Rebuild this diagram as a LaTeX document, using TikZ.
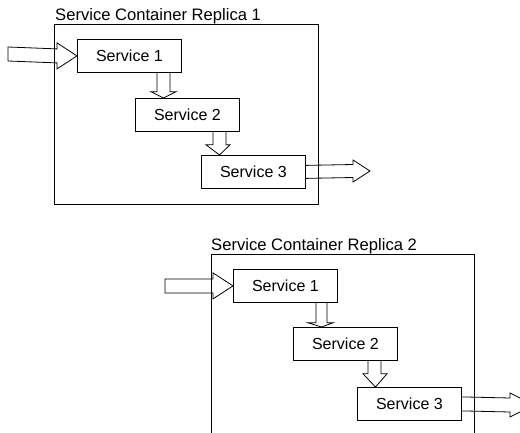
\documentclass[tikz,border=0pt]{standalone}
\usepackage{fontspec}
\setmainfont{Liberation Sans}
\usetikzlibrary{calc}
\tikzset{
  svc/.style={draw=black, line width=0.8pt, fill=white, anchor=north west, minimum width=104pt, minimum height=33pt, inner sep=0pt, font=\fontsize{16}{18}\selectfont},
  cont/.style={draw=black, line width=0.8pt, anchor=north west, inner sep=0pt},
  ttl/.style={anchor=base west, inner sep=0pt, font=\fontsize{16.6}{18}\selectfont},
  fat/.style={draw=black, line width=0.8pt, line join=miter}
}
\begin{document}
\begin{tikzpicture}[x=1pt,y=-1pt]
\useasboundingbox (0,0) rectangle (520,433);
% ---------- Replica 1 ----------
\node[cont, minimum width=264pt, minimum height=180pt] (c1) at (54,24) {};
\node[ttl] (t1) at ($(c1.north west)+(1,-3.5)$) {Service Container Replica 1};
\node[svc] (a1) at (77,39) {Service 1};
\node[svc] (b1) at (135,98) {Service 2};
\node[svc] (d1) at (201,155) {Service 3};
\coordinate (in1) at (8,54);
\coordinate (out1) at (370,171);
% input arrow
\draw[fat] (in1) ++(0,-7) -- ($(a1.west)+(-20,-7)$) -- ($(a1.west)+(-20,-13)$) -- (a1.west)
  -- ($(a1.west)+(-20,13)$) -- ($(a1.west)+(-20,7)$) -- ($(in1)+(0,7)$) -- cycle;
% 1 -> 2
\draw[fat] ($(a1.south west)+(80,0)$) -- ($(a1.south west)+(80,19)$) -- ($(a1.south west)+(74,19)$)
  -- ($(b1.north west)+(28.5,0)$) -- ($(a1.south west)+(99,19)$) -- ($(a1.south west)+(93,19)$) -- ($(a1.south west)+(93,0)$);
% 2 -> 3
\draw[fat] ($(b1.south west)+(78,0)$) -- ($(b1.south west)+(78,13)$) -- ($(b1.south west)+(71,13)$)
  -- ($(d1.north west)+(18.5,0)$) -- ($(b1.south west)+(95,13)$) -- ($(b1.south west)+(91,13)$) -- ($(b1.south west)+(91,0)$);
% output arrow
\draw[fat] ($(d1.east)+(0,-6.5)$) -- ($(out1)+(-17,-6.5)$) -- ($(out1)+(-17,-11)$) -- (out1)
  -- ($(out1)+(-17,11)$) -- ($(out1)+(-17,6.5)$) -- ($(d1.east)+(0,6.5)$);
% ---------- Replica 2 ----------
\node[cont, minimum width=263pt, minimum height=200pt] (c2) at (211,254) {};
\node[ttl] (t2) at ($(c2.north west)+(0,-3.5)$) {Service Container Replica 2};
\node[svc] (a2) at (233,269) {Service 1};
\node[svc] (b2) at (293,327) {Service 2};
\node[svc] (d2) at (357,387) {Service 3};
\coordinate (in2) at (165,286);
\coordinate (out2) at (534,405);
\draw[fat] (in2) ++(0,-7) -- ($(a2.west)+(-20,-7)$) -- ($(a2.west)+(-20,-13)$) -- (a2.west)
  -- ($(a2.west)+(-20,13)$) -- ($(a2.west)+(-20,7)$) -- ($(in2)+(0,7)$) -- cycle;
\draw[fat] ($(a2.south west)+(83,0)$) -- ($(a2.south west)+(83,20)$) -- ($(a2.south west)+(75,20)$)
  -- ($(b2.north west)+(28.5,0)$) -- ($(a2.south west)+(100,20)$) -- ($(a2.south west)+(94,20)$) -- ($(a2.south west)+(94,0)$);
\draw[fat] ($(b2.south west)+(75,0)$) -- ($(b2.south west)+(75,13)$) -- ($(b2.south west)+(70,13)$)
  -- ($(d2.north west)+(18.5,0)$) -- ($(b2.south west)+(94,13)$) -- ($(b2.south west)+(88,13)$) -- ($(b2.south west)+(88,0)$);
\draw[fat] ($(d2.east)+(0,-7)$) -- ($(out2)+(-24,-7)$) -- ($(out2)+(-24,-12)$) -- (out2)
  -- ($(out2)+(-24,12)$) -- ($(out2)+(-24,7)$) -- ($(d2.east)+(0,7)$);
\end{tikzpicture}
\end{document}
